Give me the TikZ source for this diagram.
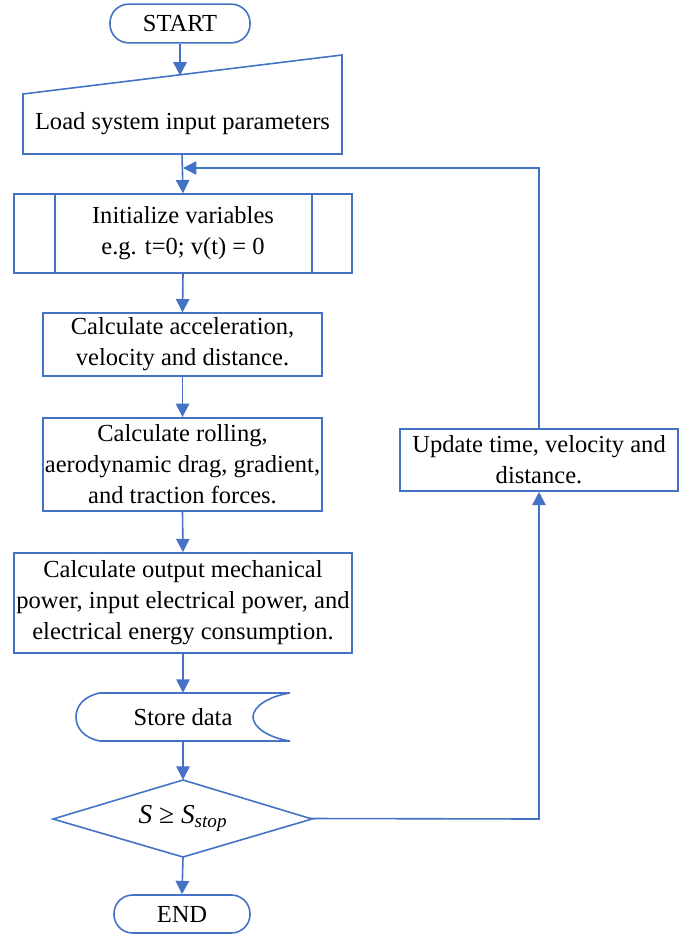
\documentclass[tikz,border=0pt]{standalone}
\usepackage{fontspec}
\setmainfont{Liberation Serif}
\usetikzlibrary{arrows.meta}
\definecolor{fc}{RGB}{68,114,196}
\begin{document}
\begin{tikzpicture}[x=0.75pt,y=-0.75pt,
  outl/.style={draw=fc, line width=1.2pt},
  arr/.style={draw=fc, line width=1.2pt, -{Triangle[length=10pt,width=10pt]}},
  txt/.style={font=\fontsize{18.4}{23.2}\selectfont, align=center, text=black, inner sep=0pt},
  boxn/.style={outl, rectangle, txt},
  term/.style={outl, rectangle, rounded corners=14pt, txt}]
\useasboundingbox (0,0) rectangle (686,935);

% START
\node[term, minimum width=105pt, minimum height=29pt] (start) at (180,23.5) {START};

% manual input
\draw[outl] (23,94) -- (342,55) -- (342,154) -- (23,154) -- cycle;
\node[txt, minimum width=239pt, minimum height=74pt] (minput) at (182.5,124) {Load system input parameters};
\coordinate (mintop) at (180,75.5);
\coordinate (minbot) at (182,154);

% predefined process
\node[boxn, minimum width=253.5pt, minimum height=59pt] (init) at (183,233.5) {Initialize variables\\e.g. t=0; v(t) = 0};
\draw[outl] (55,194) -- (55,273) (312,194) -- (312,273);

% process boxes
\node[boxn, minimum width=209pt, minimum height=47pt] (acc) at (182.5,344.5) {Calculate acceleration,\\velocity and distance.};
\node[boxn, minimum width=209pt, minimum height=70pt] (forces) at (182.5,464.5) {Calculate rolling,\\aerodynamic drag, gradient,\\and traction forces.};
\node[boxn, minimum width=253.5pt, minimum height=75pt] (power) at (183,603) {Calculate output mechanical\\power, input electrical power, and\\electrical energy consumption.};

% stored data
\draw[outl] (290,693) -- (100,693)
  .. controls (84,696) and (76,706) .. (76,717)
  .. controls (76,728) and (84,738) .. (100,741)
  -- (290,741)
  .. controls (270,738) and (253,728) .. (253,717)
  .. controls (253,706) and (270,696) .. (290,693);
\node[txt, minimum width=160pt, minimum height=36pt] (store) at (183,717) {Store data};

% decision
\draw[outl] (183,780) -- (312,819) -- (183,857) -- (53,819) -- cycle;
\node[txt, font=\fontsize{20.5}{24}\selectfont, minimum width=190pt, minimum height=57.75pt] (dec) at (183,818.5) {\textit{S} ≥ \textit{S}\textsubscript{\textit{stop}}};

% END
\node[term, minimum width=102pt, minimum height=28.5pt] (end) at (182,914) {END};

% update
\node[boxn, minimum width=208.5pt, minimum height=46.5pt] (upd) at (539,460) {Update time, velocity and\\distance.};

% connectors
\draw[arr] (start.south) -- (mintop);
\draw[arr] (minbot) -- (init.north);
\draw[arr] (init.south) -- (acc.north);
\draw[arr] (acc.south) -- (forces.north);
\draw[arr] (forces.south) -- (power.north);
\draw[arr] (power.south) -- (power.south |- store.north);
\draw[arr] (power.south |- store.south) -- (dec.north);
\draw[arr] (dec.south) -- (end.north);
\coordinate (fb) at (539,819);
\draw[arr] (dec.east) -- (fb) -- (upd.south);
\coordinate (loop) at (539,168);
\draw[arr] (upd.north) -- (loop) -- (init.north |- loop);
\end{tikzpicture}
\end{document}
